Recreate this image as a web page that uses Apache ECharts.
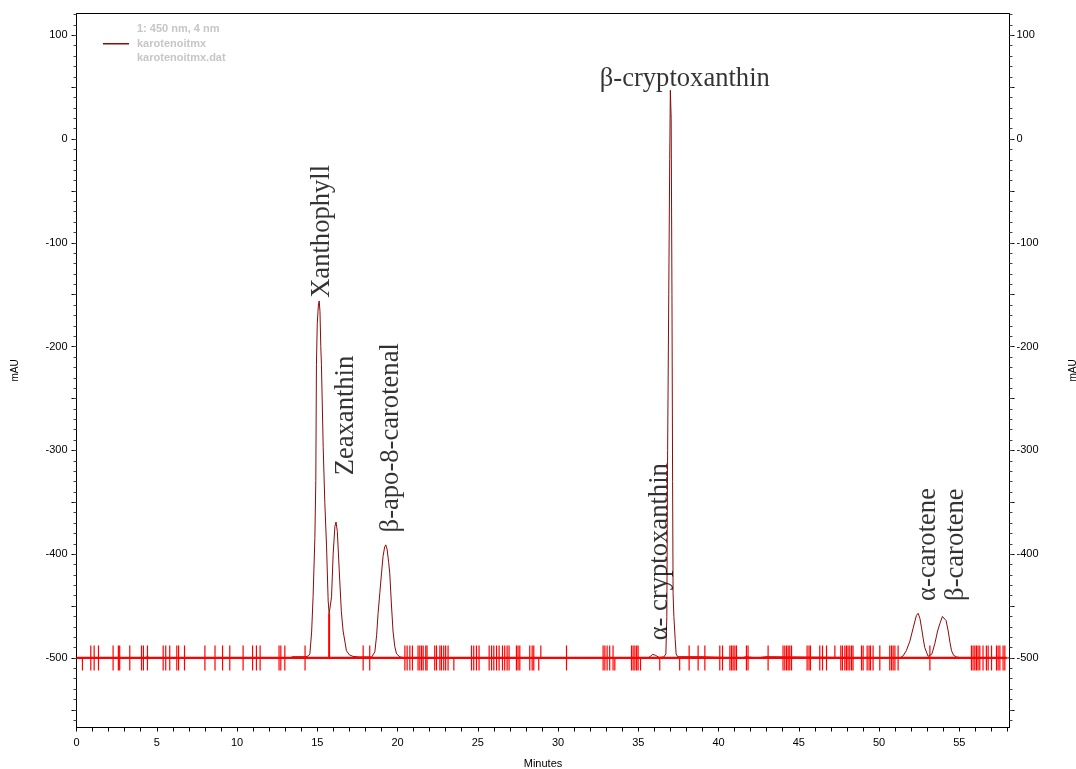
<!DOCTYPE html>
<html>
<head>
<meta charset="utf-8">
<script src="https://cdn.jsdelivr.net/npm/echarts@6/dist/echarts.min.js"></script>
<style>
html,body{margin:0;padding:0;background:#fff;}
#chart{width:1076px;height:769px;}
</style>
</head>
<body>
<div id="chart"></div>
<script>
// ---- data ----
const legendName = '1: 450 nm, 4 nm\nkarotenoitmx\nkarotenoitmx.dat';

const traceTime = [0,1.3,1.37,1.45,4.35,4.42,4.5,13.3,13.45,14.3,14.45,
  14.54,14.65,14.74,14.85,14.91,14.95,15.0,15.07,15.12,15.17,15.22,15.26,15.37,15.47,15.58,15.68,15.74,15.82,15.89,15.99,16.1,16.17,16.25,16.4,16.5,16.61,16.82,17.0,17.23,17.6,18.4,18.5,18.59,18.7,18.79,18.9,19.0,19.1,19.2,19.27,19.35,19.45,19.52,19.62,19.72,19.83,19.94,20.15,20.5,
  35.6,35.75,35.9,35.98,36.08,36.15,36.3,36.6,36.72,36.78,36.83,36.9,36.96,37.0,37.02,37.05,37.1,37.14,37.17,37.22,37.3,37.36,37.45,38.9,39.0,
  41.45,41.5,41.7,41.75,42.4,42.45,42.95,43.0,
  51.3,51.5,51.7,51.92,52.13,52.33,52.44,52.55,52.65,52.75,52.85,53.06,53.17,53.3,53.48,53.65,53.79,53.95,54.06,54.18,54.31,54.42,54.52,54.65,54.83,55.14,58.1];
const traceMAU = [-500,-500,-498.5,-500,-500,-498,-500,-500,-498.8,-498.8,-498,
  -496,-475,-441,-385,-329,-217,-178,-160,-156,-166,-200,-217,-297,-350,-393,-445,-457,-449,-441,-400,-373,-369,-378,-425,-455,-474,-493,-497,-498.5,-499,-499,-498,-494,-478,-457,-437,-419,-402,-393,-391,-395,-408,-419,-448,-474,-489,-496,-499,-500,
  -500,-498.5,-496.5,-496,-497.5,-499,-499.5,-499,-496,-460,-300,-150,-20,47,48.6,20,-150,-330,-438,-460,-482,-496,-498.8,-498.8,-500,
  -500,-498.8,-498.8,-500,-500,-498.8,-498.8,-500,
  -500,-498,-493,-484,-471,-459,-457,-462,-471,-481,-490,-498.5,-499,-496,-486,-474,-467,-460,-459,-464,-474,-485,-493,-497.5,-499,-500,-500];

const baselineTimes = [0, 57.95];
const baselineLevel = -500;
const dropTimes = [15.74];
const dropTops = [-457];

const eventFull = [0.89,1.1,1.37,2.28,2.61,2.69,3.32,4.05,4.17,4.42,5.4,5.56,5.81,6.25,6.36,6.73,8.0,8.63,9.1,9.55,10.38,10.97,11.21,11.44,12.62,12.73,12.98,14.24,17.86,18.27,
  20.46,20.6,20.77,20.93,21.28,21.39,21.5,21.6,21.76,21.84,22.32,22.43,22.64,22.74,22.88,23.0,23.15,24.61,24.75,24.92,25.08,25.71,25.86,26.0,26.17,26.33,26.54,26.68,26.83,26.95,27.41,27.51,27.62,28.24,28.39,28.49,30.53,
  32.81,32.92,33.06,33.22,33.43,34.58,34.68,34.79,34.9,34.99,38.17,38.73,39.15,40.08,40.25,40.71,40.81,40.91,41.02,41.12,41.74,41.84,43.09,
  44.02,44.13,44.24,44.34,44.44,44.55,45.52,45.64,45.73,46.31,46.48,46.73,47.62,47.72,47.87,47.97,48.07,48.18,48.29,48.38,48.91,49.01,49.26,49.38,49.47,49.63,50.05,50.67,50.78,50.88,50.99,51.19,53.17,
  55.76,55.86,55.97,56.07,56.17,56.28,56.48,56.69,56.8,57.01,57.32,57.42,57.53,57.73,57.84];
const eventDown = [0.37,23.51,28.8,33.54,35.14,36.34,37.58];
const eventUp = [28.93,47.25];

const peakNames = ['Xanthophyll','Zeaxanthin','\u03b2-apo-8-carotenal','\u03b1- cryptoxanthin','\u03b1-carotene','\u03b2-carotene'];
const peakLabelTime = [15.28,16.82,19.6,36.37,53.06,54.8];
const peakLabelMAU = [-153,-324,-379,-483,-445,-445];
const topPeakName = '\u03b2-cryptoxanthin';
const topPeakLabelTime = 37.9;
const topPeakLabelMAU = 58.2;

const xLabelValues = [0,5,10,15,20,25,30,35,40,45,50,55];
const yLabelValues = [-500,-400,-300,-200,-100,0,100];
const xMin = 0, xMax = 58.13, yMin = -567, yMax = 121;

// tick positions
const xTickValues = [];
for (let v = 0; v <= 58; v++) xTickValues.push(v);
const yMidTicks = [];
for (let v = -550; v <= 100; v += 50) yMidTicks.push(v);
const yMinorTicks = [];
for (let v = -560; v <= 120; v += 10) yMinorTicks.push(v);

// ---- build chart ----
const traceData = traceTime.map((t, i) => [t, traceMAU[i]]);
const baselineData = baselineTimes.map(t => [t, baselineLevel]);
const dropData = [];
dropTimes.forEach((t, i) => { dropData.push([t, baselineLevel], [t, dropTops[i]], null); });
const peakLabelData = peakNames.map((n, i) => ({ name: n, value: [peakLabelTime[i], peakLabelMAU[i]] }));

const axisFont = { fontFamily: 'Liberation Sans, Arial, sans-serif', fontSize: 11, color: '#000' };

function yAxisPair(pos) {
  return [
    {
      type: 'value', position: pos, min: yMin, max: yMax,
      axisLine: { show: true, onZero: false, lineStyle: { color: '#000', width: 1 } },
      axisTick: { show: true, customValues: yMidTicks, length: 5, lineStyle: { color: '#000' } },
      axisLabel: Object.assign({ customValues: yLabelValues, margin: pos === 'left' ? 9 : 7 }, axisFont),
      splitLine: { show: false },
      name: 'mAU', nameLocation: 'middle', nameRotate: 90,
      nameGap: pos === 'left' ? 56 : 59,
      nameTextStyle: { fontFamily: 'Liberation Sans, Arial, sans-serif', fontSize: 10, color: '#000' }
    },
    {
      type: 'value', position: pos, min: yMin, max: yMax,
      axisLine: { show: false },
      axisTick: { show: true, customValues: yMinorTicks, length: 3, lineStyle: { color: '#444' } },
      axisLabel: { show: false },
      splitLine: { show: false }
    }
  ];
}

const option = {
  animation: false,
  backgroundColor: '#fff',
  grid: { left: 76.5, right: 66.5, top: 13.5, bottom: 41.5, show: true, borderColor: '#000', borderWidth: 1,
          containLabel: false, outerBoundsMode: 'none' },
  legend: {
    left: 103, top: 22, orient: 'vertical', selectedMode: false, padding: 0,
    itemWidth: 26, itemHeight: 1.5, itemGap: 0,
    data: [{ name: legendName, icon: 'rect' }],
    textStyle: { color: '#c6c6c6', fontWeight: 'bold', fontSize: 11, lineHeight: 14.5, fontFamily: 'Liberation Sans, Arial, sans-serif', padding: [0, 0, 0, 3] }
  },
  xAxis: {
    type: 'value', min: xMin, max: xMax,
    axisLine: { show: true, onZero: false, lineStyle: { color: '#000', width: 1 } },
    axisTick: { show: true, customValues: xTickValues, length: 4, lineStyle: { color: '#000' } },
    axisLabel: Object.assign({ customValues: xLabelValues, margin: 10 }, axisFont),
    splitLine: { show: false },
    name: 'Minutes', nameLocation: 'middle', nameGap: 31,
    nameTextStyle: { fontFamily: 'Liberation Sans, Arial, sans-serif', fontSize: 11, color: '#000' }
  },
  yAxis: yAxisPair('left').concat(yAxisPair('right')),
  series: [
    {
      name: legendName, type: 'line', data: traceData, showSymbol: false, symbol: 'none',
      lineStyle: { color: '#8b0a0a', width: 1 }, itemStyle: { color: '#8b0a0a' }, z: 2, silent: true
    },
    {
      name: 'baseline', type: 'line', data: baselineData, showSymbol: false, symbol: 'none',
      lineStyle: { color: '#ff0000', width: 2.2 }, z: 3, silent: true
    },
    {
      name: 'drop', type: 'line', data: dropData, showSymbol: false, symbol: 'none', connectNulls: false,
      lineStyle: { color: '#ff0000', width: 2 }, z: 3, silent: true
    },
    {
      name: 'eventsFull', type: 'scatter', data: eventFull.map(t => [t, baselineLevel]),
      symbol: 'rect', symbolSize: [1.2, 25], itemStyle: { color: '#ff0000', opacity: 1 }, z: 4, silent: true
    },
    {
      name: 'eventsDown', type: 'scatter', data: eventDown.map(t => [t, baselineLevel]),
      symbol: 'rect', symbolSize: [1.2, 12.5], symbolOffset: [0, 6.25], itemStyle: { color: '#ff0000', opacity: 1 }, z: 4, silent: true
    },
    {
      name: 'eventsUp', type: 'scatter', data: eventUp.map(t => [t, baselineLevel]),
      symbol: 'rect', symbolSize: [1.2, 12.5], symbolOffset: [0, -6.25], itemStyle: { color: '#ff0000', opacity: 1 }, z: 4, silent: true
    },
    {
      name: 'peakLabels', type: 'scatter', data: peakLabelData, symbolSize: 1,
      itemStyle: { color: 'transparent' }, z: 6, silent: true,
      label: {
        show: true, formatter: '{b}', position: 'inside', rotate: 90, align: 'left', verticalAlign: 'middle',
        fontFamily: 'Liberation Serif, Times New Roman, serif', fontSize: 26.6, color: '#000'
      }
    },
    {
      name: 'topLabel', type: 'scatter', data: [{ name: topPeakName, value: [topPeakLabelTime, topPeakLabelMAU] }], symbolSize: 1,
      itemStyle: { color: 'transparent' }, z: 6, silent: true,
      label: {
        show: true, formatter: '{b}', position: 'inside', align: 'center', verticalAlign: 'middle',
        fontFamily: 'Liberation Serif, Times New Roman, serif', fontSize: 26.6, color: '#000'
      }
    }
  ]
};

const chart = echarts.init(document.getElementById('chart'), null, { renderer: 'canvas' });
chart.setOption(option);
</script>
</body>
</html>
